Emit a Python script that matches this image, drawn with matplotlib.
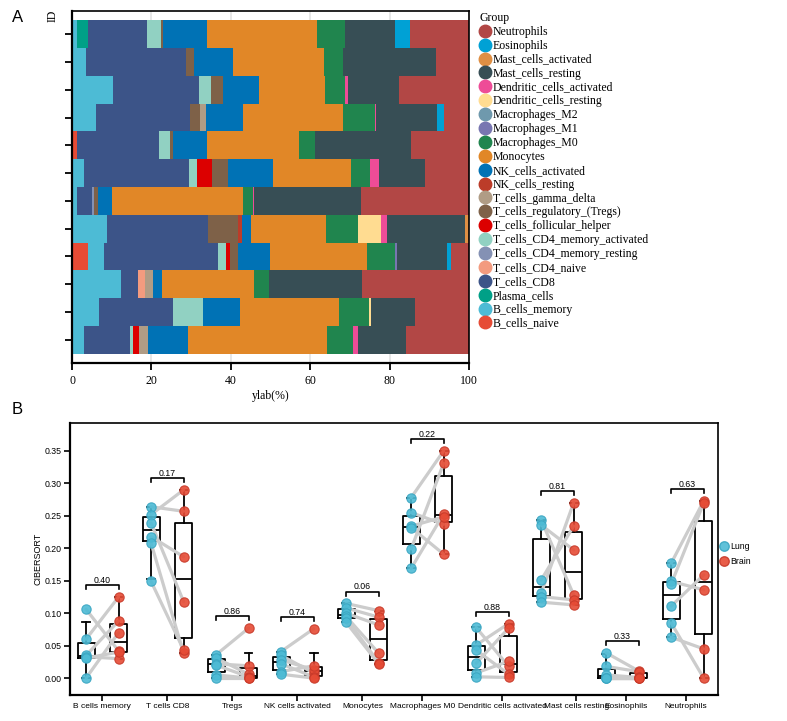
import matplotlib
matplotlib.use("Agg")
import matplotlib.pyplot as plt
from matplotlib.lines import Line2D
from matplotlib import cbook
import numpy as np

# ---------------- panel A: CIBERSORT fractions (%) per sample, top bar first
B_cells_naive = [0, 0, 0, 0, 1.2, 0, 0, 0, 4.0, 0, 0, 0]
B_cells_memory = [1.2, 3.5, 10.4, 6.0, 0, 3.1, 1.2, 8.7, 4.1, 12.3, 6.9, 3.0]
Plasma_cells = [2.9, 0, 0, 0, 0, 0, 0, 0, 0, 0, 0, 0]
T_cells_CD8 = [14.7, 25.1, 21.7, 23.7, 20.7, 26.4, 3.9, 25.6, 28.6, 4.2, 18.6, 11.6]
T_cells_CD4_naive = [0, 0, 0, 0, 0, 0, 0, 0, 0, 1.9, 0, 0]
T_cells_CD4_memory_resting = [0, 0, 0, 0, 0, 0, 0.4, 0, 0, 0, 0, 0]
T_cells_CD4_memory_activated = [3.5, 0, 2.9, 0, 2.8, 1.9, 0, 0, 2.0, 0, 7.6, 0.7]
T_cells_follicular_helper = [0, 0, 0, 0, 0, 3.8, 0, 0, 1.1, 0, 0, 1.7]
T_cells_regulatory = [0.7, 2.1, 3.1, 2.5, 0.8, 4.0, 1.0, 7.4, 1.9, 0, 0, 0]
T_cells_gamma_delta = [0, 0, 0, 1.6, 0, 0, 0, 0, 0, 2.1, 0, 2.1]
NK_cells_resting = [0, 0, 0, 0, 0, 0, 0, 1.0, 0, 0, 0, 0]
NK_cells_activated = [10.9, 9.8, 9.0, 9.2, 8.4, 11.4, 3.7, 2.4, 8.2, 2.1, 9.2, 10.2]
Monocytes = [27.7, 23.1, 16.6, 25.3, 23.3, 19.7, 32.8, 18.9, 24.5, 23.3, 25.0, 34.9]
Macrophages_M0 = [7.2, 4.6, 5.1, 7.9, 4.0, 4.8, 2.5, 8.1, 7.0, 3.8, 7.5, 6.7]
Macrophages_M1 = [0, 0, 0, 0, 0, 0, 0, 0, 0.4, 0, 0, 0]
Macrophages_M2 = [0, 0, 0, 0, 0, 0, 0, 0, 0, 0, 0, 0]
Dendritic_cells_resting = [0, 0, 0, 0, 0, 0, 0, 5.7, 0, 0, 0.4, 0]
Dendritic_cells_activated = [0, 0, 0.6, 0.5, 0, 2.2, 0.3, 1.6, 0, 0, 0, 1.2]
Mast_cells_resting = [12.6, 23.4, 13.0, 15.2, 24.2, 11.6, 27.0, 19.6, 12.6, 23.3, 11.2, 12.0]
Mast_cells_activated = [0, 0, 0, 0, 0, 0, 0, 1.0, 0, 0, 0, 0]
Eosinophils = [3.7, 0, 0, 1.8, 0, 0, 0, 0, 1.0, 0, 0, 0]
Neutrophils = [14.9, 8.4, 17.6, 6.3, 14.6, 11.1, 27.2, 0, 4.6, 27.0, 13.6, 15.9]

cell_names = ["B_cells_naive", "B_cells_memory", "Plasma_cells", "T_cells_CD8",
              "T_cells_CD4_naive", "T_cells_CD4_memory_resting",
              "T_cells_CD4_memory_activated", "T_cells_follicular_helper",
              "T_cells_regulatory_(Tregs)", "T_cells_gamma_delta", "NK_cells_resting",
              "NK_cells_activated", "Monocytes", "Macrophages_M0", "Macrophages_M1",
              "Macrophages_M2", "Dendritic_cells_resting", "Dendritic_cells_activated",
              "Mast_cells_resting", "Mast_cells_activated", "Eosinophils", "Neutrophils"]
fractions = [B_cells_naive, B_cells_memory, Plasma_cells, T_cells_CD8, T_cells_CD4_naive,
             T_cells_CD4_memory_resting, T_cells_CD4_memory_activated,
             T_cells_follicular_helper, T_cells_regulatory, T_cells_gamma_delta,
             NK_cells_resting, NK_cells_activated, Monocytes, Macrophages_M0,
             Macrophages_M1, Macrophages_M2, Dendritic_cells_resting,
             Dendritic_cells_activated, Mast_cells_resting, Mast_cells_activated,
             Eosinophils, Neutrophils]
cell_colors = ["#E64B35", "#4DBBD5", "#00A087", "#3C5488", "#F39B7F", "#8491B4",
               "#91D1C2", "#DC0000", "#7E6148", "#B09C85",
               "#BC3C29", "#0072B5", "#E18727", "#20854E", "#7876B1", "#6F99AD",
               "#FFDC91", "#EE4C97",
               "#374E55", "#DF8F44", "#00A1D5", "#B24745"]

# ---------------- panel B: paired lung / brain values
categories = ["B cells memory", "T cells CD8", "Tregs", "NK cells activated", "Monocytes",
              "Macrophages M0", "Dendritic cells activated", "Mast cells resting",
              "Eosinophils", "Neutrophils"]
bmem_lung = [0.106, 0.060, 0.035, 0.033, 0.031, 0.000]
bmem_brain = [0.042, 0.125, 0.088, 0.030, 0.040, 0.070]
cd8_lung = [0.264, 0.252, 0.239, 0.218, 0.208, 0.149]
cd8_brain = [0.257, 0.290, 0.118, 0.187, 0.0385, 0.0435]
treg_lung = [0.036, 0.031, 0.022, 0.020, 0.005, 0.000]
treg_brain = [0.077, 0.006, 0.019, 0.002, 0.000, 0.000]
nk_lung = [0.041, 0.035, 0.028, 0.022, 0.010, 0.006]
nk_brain = [0.076, 0.008, 0.013, 0.002, 0.019, 0.000]
mono_lung = [0.115, 0.108, 0.100, 0.095, 0.092, 0.086]
mono_brain = [0.104, 0.094, 0.082, 0.0385, 0.024, 0.022]
m0_lung = [0.278, 0.199, 0.169, 0.255, 0.234, 0.232]
m0_brain = [0.350, 0.331, 0.253, 0.237, 0.2485, 0.191]
dc_lung = [0.078, 0.051, 0.043, 0.023, 0.008, 0.002]
dc_brain = [0.018, 0.084, 0.006, 0.077, 0.026, 0.001]
mast_lung = [0.2435, 0.2358, 0.1512, 0.1308, 0.1256, 0.117]
mast_brain = [0.1282, 0.1974, 0.2343, 0.2702, 0.1205, 0.1128]
eos_lung = [0.039, 0.018, 0.005, 0.000, 0.000, 0.000]
eos_brain = [0.011, 0.010, 0.001, 0.000, 0.000, 0.000]
neut_lung = [0.177, 0.149, 0.145, 0.111, 0.085, 0.063]
neut_brain = [0.273, 0.136, 0.270, 0.159, 0.000, 0.045]
p_values = ["0.40", "0.17", "0.86", "0.74", "0.06", "0.22", "0.88", "0.81", "0.33", "0.63"]

lung_sets = [bmem_lung, cd8_lung, treg_lung, nk_lung, mono_lung, m0_lung, dc_lung,
             mast_lung, eos_lung, neut_lung]
brain_sets = [bmem_brain, cd8_brain, treg_brain, nk_brain, mono_brain, m0_brain, dc_brain,
              mast_brain, eos_brain, neut_brain]

# the long labels on the right are nudged apart in the original figure
label_nudge = [0, 0, 0, 0, 0, -0.08, 0.15, 0.29, 0.06, -0.02]

lung_col = "#4DBBD5"
brain_col = "#E64B35"
serif = ["Liberation Serif", "DejaVu Serif"]
sans = ["Liberation Sans", "DejaVu Sans"]

fig = plt.figure(figsize=(7.87, 7.21), dpi=100)

# ================= panel A
axA = fig.add_axes([72 / 787, 1 - 363 / 721, 397 / 787, 352 / 721])
rows = np.arange(len(Neutrophils))
left = np.zeros(len(rows))
for name, vals, col in zip(cell_names, fractions, cell_colors):
    vals = np.array(vals)
    axA.barh(rows, vals, left=left, height=1.0, color=col, linewidth=0, zorder=2)
    left += vals
axA.set_xlim(0, 100)
axA.set_ylim(11.5 + 0.34, -0.5 - 0.34)
axA.set_xticks([0, 20, 40, 60, 80, 100])
axA.set_yticks(rows)
axA.set_yticklabels([])
axA.grid(axis="x", color="#E3E3E3", linewidth=1.2, zorder=0)
axA.tick_params(axis="y", length=5, width=1.3)
axA.tick_params(axis="x", length=5, width=1.3, labelsize=8.5)
for lab in axA.get_xticklabels():
    lab.set_family(serif)
for s in ["left", "bottom"]:
    axA.spines[s].set_linewidth(1.6)
for s in ["top", "right"]:
    axA.spines[s].set_linewidth(1.2)
axA.set_xlabel("ylab(%)", family=serif, fontsize=8.5, labelpad=2)
axA.text(-0.05, 0.985, "ID", rotation=90, transform=axA.transAxes, family=serif,
         fontsize=8.5, ha="center", va="center")

handles = [Line2D([], [], marker="o", linestyle="", markersize=9, color=c)
           for c in cell_colors[::-1]]
legA = fig.legend(handles, cell_names[::-1], title="Group", loc="upper left",
                  bbox_to_anchor=(479 / 787, 1 - 12 / 721), frameon=False,
                  prop={"family": serif, "size": 8.5}, labelspacing=0.16,
                  handletextpad=0.15, handlelength=1.0, borderpad=0, borderaxespad=0,
                  alignment="left")
legA.get_title().set_family(serif)
legA.get_title().set_fontsize(8.5)

fig.text(12 / 787, 1 - 18 / 721, "A", family=sans, fontsize=12, va="center")
fig.text(12 / 787, 1 - 410 / 721, "B", family=sans, fontsize=12, va="center")

# ================= panel B
axB = fig.add_axes([70 / 787, 1 - 695 / 721, 648 / 787, 272 / 721])
dodge = 0.25
stats = []
positions = []
for i, (lv, bv) in enumerate(zip(lung_sets, brain_sets)):
    for vals, off in ((lv, -dodge), (bv, dodge)):
        st = cbook.boxplot_stats(np.array(vals), whis=1.5)[0]
        iqr = st["q3"] - st["q1"]
        st["whishi"] = min(max(vals), st["q3"] + 1.5 * iqr)
        st["whislo"] = max(min(vals), st["q1"] - 1.5 * iqr)
        stats.append(st)
        positions.append(i + 1 + off)

lp = dict(color="black", linewidth=1.3)
axB.bxp(stats, positions=positions, widths=0.26, capwidths=0.12, showfliers=False,
        boxprops=lp, whiskerprops=lp, capprops=lp, medianprops=lp, zorder=2)

for i, (lv, bv) in enumerate(zip(lung_sets, brain_sets)):
    xl, xb = i + 1 - dodge, i + 1 + dodge
    for a, b in zip(lv, bv):
        axB.plot([xl, xb], [a, b], color="#CCCCCC", linewidth=2.3, zorder=3,
                 solid_capstyle="round")
    axB.scatter([xl] * len(lv), lv, s=45, color=lung_col, edgecolor="#3AA6C2",
                linewidth=0.8, alpha=0.9, zorder=4)
    axB.scatter([xb] * len(bv), bv, s=45, color=brain_col, edgecolor="#C83A2A",
                linewidth=0.8, alpha=0.9, zorder=4)
    h = max(max(lv), max(bv)) + 0.018
    axB.plot([xl, xl, xb, xb], [h - 0.006, h, h, h - 0.006], color="black",
             linewidth=1.2, zorder=5)
    axB.text(i + 1, h + 0.0005, p_values[i], ha="center", va="bottom", fontsize=6.3,
             family=sans)

axB.set_xlim(0.503, 10.47)
axB.set_ylim(-0.026, 0.393)
axB.set_xticks(np.arange(1, len(categories) + 1) + np.array(label_nudge))
axB.set_xticklabels(categories, family=sans, fontsize=6.0)
axB.set_yticks([0, 0.05, 0.10, 0.15, 0.20, 0.25, 0.30, 0.35])
axB.set_yticklabels(["0.00", "0.05", "0.10", "0.15", "0.20", "0.25", "0.30", "0.35"],
                    family=sans, fontsize=6.3)
axB.tick_params(length=4, width=1.2, pad=2)
axB.set_ylabel("CIBERSORT", family=sans, fontsize=6.5, labelpad=1.5)
for s in ["left", "bottom"]:
    axB.spines[s].set_linewidth(1.6)
for s in ["top", "right"]:
    axB.spines[s].set_linewidth(1.2)

hB = [Line2D([], [], marker="o", linestyle="", markersize=6.8, color=lung_col,
             markeredgecolor="#3AA6C2", alpha=0.9),
      Line2D([], [], marker="o", linestyle="", markersize=6.8, color=brain_col,
             markeredgecolor="#C83A2A", alpha=0.9)]
fig.legend(hB, ["Lung", "Brain"], loc="center left",
           bbox_to_anchor=(719 / 787, 1 - 554 / 721), frameon=False,
           prop={"family": sans, "size": 6.3}, handletextpad=0.1, handlelength=1.2,
           labelspacing=0.6, borderpad=0, borderaxespad=0)

fig.savefig("out.png", dpi=100)
